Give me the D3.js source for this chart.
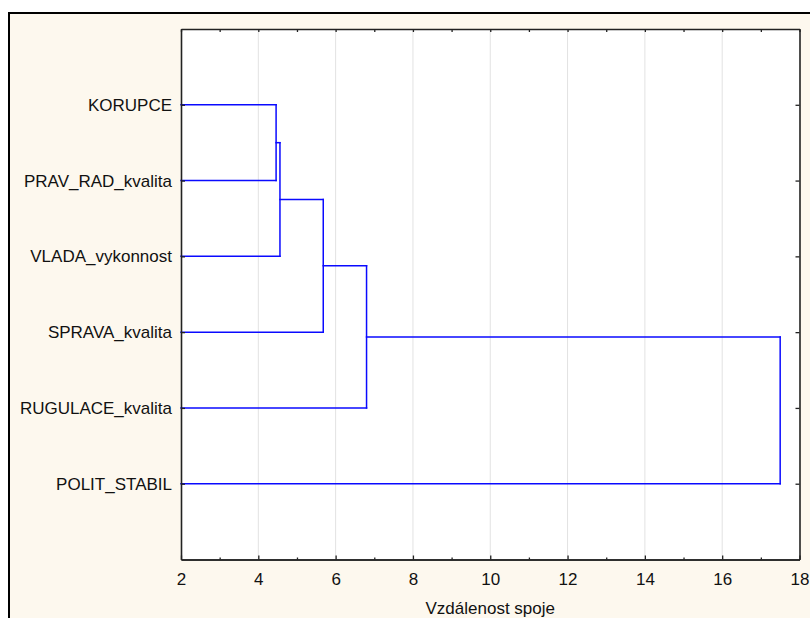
<!DOCTYPE html>
<html>
<head>
<meta charset="utf-8">
<script src="https://cdn.jsdelivr.net/npm/d3@7"></script>
<style>
  html, body { margin: 0; padding: 0; background: #ffffff; }
  svg { display: block; }
  text { font-family: "Liberation Sans", Arial, sans-serif; fill: #111; }
</style>
</head>
<body>
<svg id="chart" width="810" height="618"></svg>
<script>
// Leaves of the tree, top to bottom
const leaves = ["KORUPCE", "PRAV_RAD_kvalita", "VLADA_vykonnost", "SPRAVA_kvalita", "RUGULACE_kvalita", "POLIT_STABIL"];
// Agglomeration steps: ids < 6 are leaves, id 6+k is the cluster formed at step k
const mergeLeft  = [0, 6, 7, 8, 9];
const mergeRight = [1, 2, 3, 4, 5];
const mergeDistance = [4.46, 4.56, 5.68, 6.80, 17.50];
// Axis ticks
const xTicks = [2, 4, 6, 8, 10, 12, 14, 16, 18];
const xMinorTicks = [3, 5, 7, 9, 11, 13, 15, 17];
const xGridTicks = [4, 6, 8, 10, 12, 14, 16];
const xTitle = "Vzdálenost spoje";

const svg = d3.select("#chart");
const W = 810, H = 618;
const plot = { left: 181, right: 799.5, top: 29, bottom: 559.5 };
const FONT = 17;

// Panel background and frame
svg.append("rect").attr("x", 9).attr("y", 13).attr("width", W).attr("height", H)
  .attr("fill", "#fdf8ee");
svg.append("path").attr("d", `M9,${H + 5} V13 H${W + 5}`)
  .attr("fill", "none").attr("stroke", "#000").attr("stroke-width", 2);

svg.append("rect")
  .attr("x", plot.left).attr("y", plot.top)
  .attr("width", plot.right - plot.left).attr("height", plot.bottom - plot.top)
  .attr("fill", "#ffffff");

const x = d3.scaleLinear().domain([2, 18]).range([plot.left, plot.right]);
const y = d3.scaleLinear().domain([0, leaves.length + 1]).range([plot.top, plot.bottom]);

// Vertical grid lines
svg.append("g").selectAll("line").data(xGridTicks).join("line")
  .attr("x1", d => x(d)).attr("x2", d => x(d))
  .attr("y1", plot.top).attr("y2", plot.bottom)
  .attr("stroke", "#e2e2e2").attr("stroke-width", 1);

// Node positions: leaves at distance 2 (the axis origin), clusters at their merge distance
const nodeX = leaves.map(() => x(2));
const nodeY = leaves.map((_, i) => y(i + 1));
const segs = [];
mergeDistance.forEach((d, k) => {
  const a = mergeLeft[k], b = mergeRight[k];
  const xm = x(d);
  segs.push([nodeX[a], nodeY[a], xm, nodeY[a]]);
  segs.push([nodeX[b], nodeY[b], xm, nodeY[b]]);
  segs.push([xm, nodeY[a], xm, nodeY[b]]);
  nodeX.push(xm);
  nodeY.push((nodeY[a] + nodeY[b]) / 2);
});

svg.append("g").selectAll("path").data(segs).join("path")
  .attr("d", s => `M${s[0]},${s[1]}L${s[2]},${s[3]}`)
  .attr("fill", "none").attr("stroke", "#0a0aff").attr("stroke-width", 1.5)
  .attr("stroke-linecap", "square");

// Axes with inward ticks
const axisFont = g => g.selectAll("text").style("font-size", FONT + "px")
  .style("font-family", '"Liberation Sans", Arial, sans-serif').attr("fill", "#111");

const axisB = svg.append("g").attr("transform", `translate(0,${plot.bottom})`)
  .call(d3.axisBottom(x).tickValues(xTicks).tickSizeInner(-4).tickSizeOuter(0).tickPadding(13.5).tickFormat(d3.format("d")));
axisB.call(axisFont);
svg.append("g").attr("transform", `translate(0,${plot.bottom})`)
  .call(d3.axisBottom(x).tickValues(xMinorTicks).tickSizeInner(-2).tickSizeOuter(0).tickFormat(""));

svg.append("g").attr("transform", `translate(0,${plot.top})`)
  .call(d3.axisTop(x).tickValues(xTicks.concat(xMinorTicks)).tickSizeInner(-3).tickSizeOuter(0).tickFormat(""));

const axisL = svg.append("g").attr("transform", `translate(${plot.left},0)`)
  .call(d3.axisLeft(y).tickValues(leaves.map((_, i) => i + 1)).tickSizeInner(-4).tickSizeOuter(0)
    .tickPadding(9).tickFormat(i => leaves[i - 1]));
axisL.call(axisFont);

svg.append("g").attr("transform", `translate(${plot.right},0)`)
  .call(d3.axisRight(y).tickValues(leaves.map((_, i) => i + 1)).tickSizeInner(-4).tickSizeOuter(0).tickFormat(""));

svg.selectAll(".domain").attr("stroke", "#222").attr("stroke-width", 1.6);
svg.selectAll(".tick line").attr("stroke", "#222").attr("stroke-width", 1.3);

// Axis title
svg.append("text").attr("x", (plot.left + plot.right) / 2).attr("y", 614)
  .attr("text-anchor", "middle").style("font-size", FONT + "px").text(xTitle);
</script>
</body>
</html>
